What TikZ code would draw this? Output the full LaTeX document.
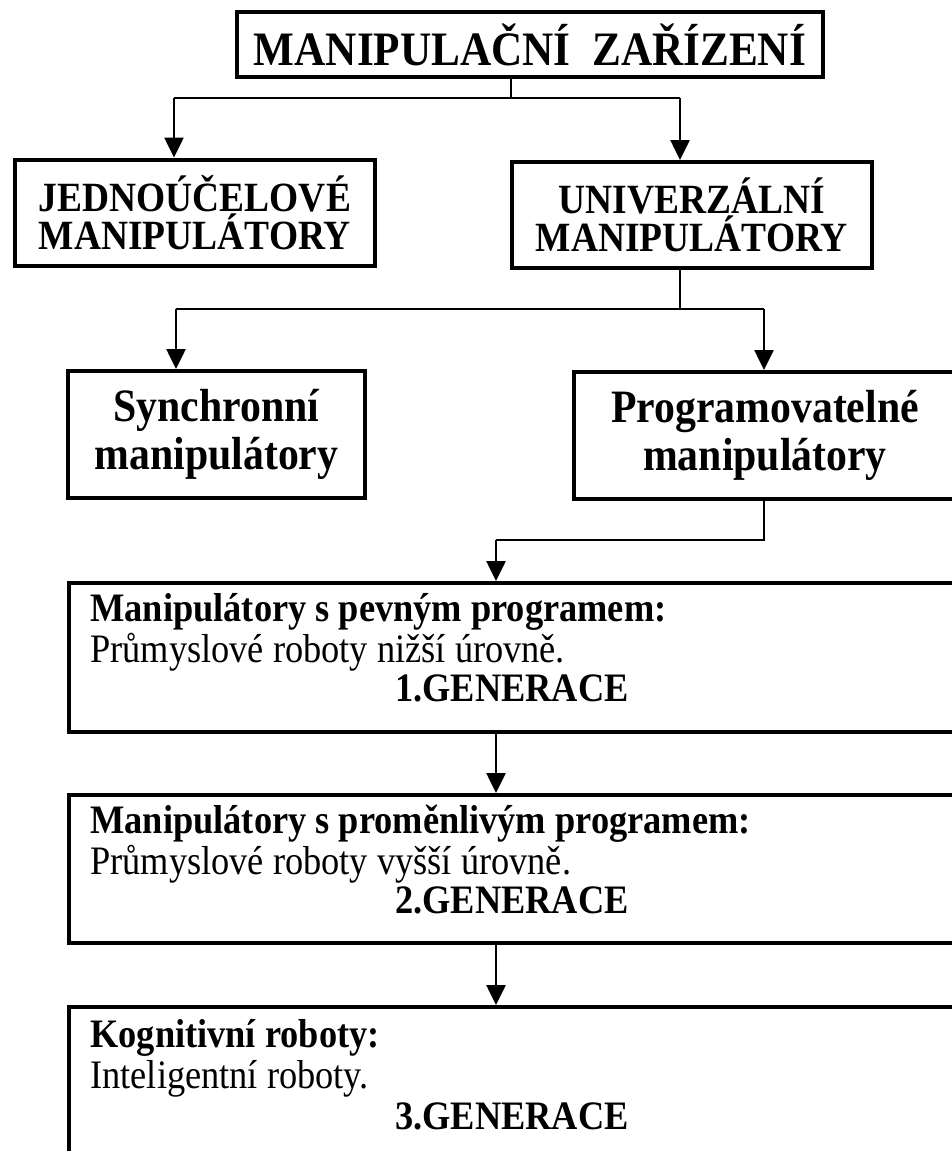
\documentclass[tikz,border=0pt]{standalone}
\usepackage{fontspec}
\setmainfont{Liberation Serif}
\newfontfamily\narrowserif{Liberation Serif}[FakeStretch=0.9]
\usetikzlibrary{arrows.meta,calc,positioning}

\begin{document}
\begin{tikzpicture}[x=0.5pt,y=-0.5pt]
                % define styles
\tikzset{box/.style={draw,
                     line width=2pt,
                     inner sep=0pt,
                     align=center},
         link/.style={line width=1.3pt},
         arr/.style={link,
                     -{Triangle[length=10pt,width=9.5pt]}},
         gentitle/.style={anchor=base west, inner sep=0pt,
                          font=\narrowserif\bfseries\fontsize{20.2}{22}\selectfont},
         gentext/.style={anchor=base west, inner sep=0pt,
                         font=\narrowserif\fontsize{20.2}{22}\selectfont},
         genlabel/.style={anchor=base, inner sep=0pt,
                          font=\narrowserif\bfseries\fontsize{20.2}{22}\selectfont}
}

\useasboundingbox (0,0) rectangle (952,1151);
\clip (0,0) rectangle (952,1151);

% boxes
\node[box, minimum width=293pt, minimum height=32.5pt,
      font=\narrowserif\bfseries\fontsize{24}{26}\selectfont]
      (zarizeni) at (530,44.5)  {MANIPULAČNÍ\ \ ZAŘÍZENÍ};
\node[box, minimum width=180pt, minimum height=53pt,
      font=\narrowserif\bfseries\fontsize{20.8}{17.5}\selectfont]
      (jedno)    at (195,212.5) {JEDNOÚČELOVÉ\\MANIPULÁTORY};
\node[box, minimum width=180pt, minimum height=53pt,
      font=\narrowserif\bfseries\fontsize{20.8}{17.5}\selectfont]
      (univ)     at (692,215)   {UNIVERZÁLNÍ\\MANIPULÁTORY};
\node[box, minimum width=148.5pt, minimum height=63.5pt,
      font=\narrowserif\bfseries\fontsize{23.2}{24}\selectfont]
      (sync)     at (216.5,434.5) {Synchronní\\manipulátory};
\node[box, minimum width=191pt, minimum height=63.5pt,
      font=\narrowserif\bfseries\fontsize{23.2}{24}\selectfont]
      (prog)     at (765,435.5) {Programovatelné\\manipulátory};
\node[box, minimum width=443pt, minimum height=74.5pt] (gen1) at (512,657.5) {};
\node[box, minimum width=443pt, minimum height=74pt]   (gen2) at (512,869)   {};
\node[box, minimum width=443pt, minimum height=86.5pt] (gen3) at (512,1093.5) {};

% texts inside the generation boxes
\node[gentitle] (gen1a) at ($(gen1.north west)+(23,40)$)  {Manipulátory s pevným programem:};
\node[gentext]  (gen1b) at ($(gen1.north west)+(23,81)$)  {Průmyslové roboty nižší úrovně.};
\node[genlabel] (gen1c) at ($(gen1.north)+(0,120)$)       {1.GENERACE};

\node[gentitle] (gen2a) at ($(gen2.north west)+(23,40)$)  {Manipulátory s proměnlivým programem:};
\node[gentext]  (gen2b) at ($(gen2.north west)+(23,81)$)  {Průmyslové roboty vyšší úrovně.};
\node[genlabel] (gen2c) at ($(gen2.north)+(0,120)$)       {2.GENERACE};

\node[gentitle] (gen3a) at ($(gen3.north west)+(23,42)$)  {Kognitivní roboty:};
\node[gentext]  (gen3b) at ($(gen3.north west)+(23,83)$)  {Inteligentní roboty.};
\node[genlabel] (gen3c) at ($(gen3.north)+(0,124)$)       {3.GENERACE};

% forks
\coordinate (fork1)  at (511,98);
\coordinate (fork1l) at (174,98);
\coordinate (fork1r) at (680,98);
\coordinate (fork2)  at (680,309);
\coordinate (fork2l) at (176,309);
\coordinate (fork2r) at (764,309);
\coordinate (fork3)  at (764,540);
\coordinate (fork3l) at (496,540);

% connectors
\draw[link] (zarizeni.south -| fork1) -- (fork1);
\draw[link] (fork1l) -- (fork1r);
\draw[arr]  (fork1l) -- (fork1l |- jedno.north);
\draw[arr]  (fork1r) -- (fork1r |- univ.north);

\draw[link] (univ.south -| fork2) -- (fork2);
\draw[link] (fork2l) -- (fork2r);
\draw[arr]  (fork2l) -- (fork2l |- sync.north);
\draw[arr]  (fork2r) -- (fork2r |- prog.north);

\draw[link] (prog.south -| fork3) -- (fork3) -- (fork3l);
\draw[arr]  (fork3l) -- (fork3l |- gen1.north);
\draw[arr]  (gen1.south -| fork3l) -- (fork3l |- gen2.north);
\draw[arr]  (gen2.south -| fork3l) -- (fork3l |- gen3.north);
\end{tikzpicture}
\end{document}
